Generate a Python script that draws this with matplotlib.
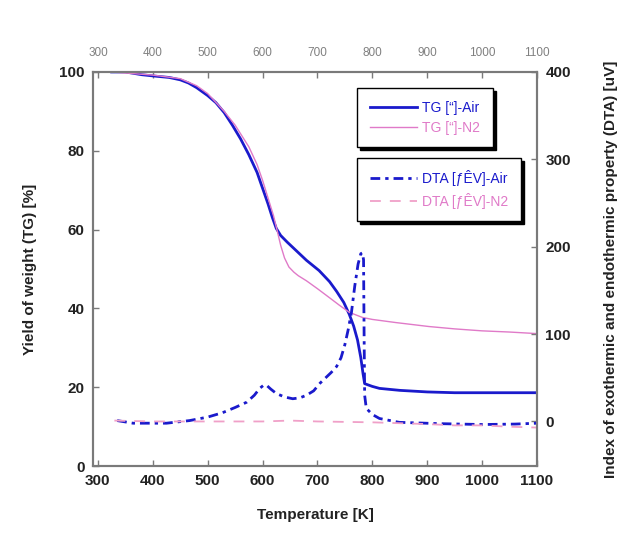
import numpy as np
import matplotlib
matplotlib.use("Agg")
import matplotlib.pyplot as plt

plt.rcParams['font.family'] = ['Liberation Sans', 'DejaVu Sans']

# TG (left axis, %)
t_tg_air = [325, 350, 380, 400, 430, 450, 465, 480, 500, 515, 530, 545, 560, 575, 590,
            600, 610, 618, 625, 633, 645, 661, 680, 703, 722, 735, 748, 758, 766, 773,
            779, 783, 786, 800, 813, 850, 900, 950, 1000, 1100]
tg_air = [100, 100, 99.3, 99.0, 98.6, 98.0, 97.2, 96.0, 94.0, 92.2, 89.7, 86.5, 83.0, 79.0, 74.5,
          70.5, 66.5, 63.0, 60.3, 58.5, 56.8, 54.7, 52.2, 49.6, 46.8, 44.3, 41.5, 38.5, 35.5, 32.0,
          27.5, 23.5, 20.9, 20.2, 19.7, 19.2, 18.8, 18.6, 18.6, 18.6]

t_tg_n2 = [325, 400, 450, 480, 500, 530, 550, 575, 590, 600, 610, 620, 627, 633, 640,
           648, 657, 665, 680, 700, 722, 740, 758, 782, 800, 843, 903, 950, 1000, 1050, 1100]
tg_n2 = [100, 99.2, 98.3, 96.5, 94.5, 90.0, 86.5, 81.0, 76.5, 72.5, 68.0, 63.5, 59.5, 56.0, 52.8,
         50.5, 49.2, 48.3, 47.0, 45.0, 42.7, 40.8, 39.0, 37.7, 37.2, 36.4, 35.4, 34.8, 34.3, 34.0, 33.6]

# DTA (right axis, uV)
t_dta_air = [335, 364, 425, 467, 500, 527, 550, 571, 585, 595, 603, 608, 615, 625, 640,
             655, 668, 680, 693, 705, 715, 725, 735, 743, 750, 756, 762, 768, 774, 779,
             782, 784, 785, 786, 789, 800, 813, 849, 922, 1000, 1060, 1100]
dta_air = [1, -2, -2, 1, 5, 10, 16, 22, 30, 38, 42, 41, 37, 32, 28,
           26, 27, 30, 35, 44, 50, 56, 63, 73, 88, 105, 125, 155, 180, 192,
           193, 185, 100, 30, 15, 8, 3.4, -1, -2.5, -3.5, -3, -2]

t_dta_n2 = [330, 400, 500, 600, 650, 700, 800, 900, 950, 1000, 1050, 1100]
dta_n2 = [1, 0, 0, 0, 1, 0, -1, -3, -4.5, -4.5, -6, -7]

xticks = [300, 400, 500, 600, 700, 800, 900, 1000, 1100]

blue = '#1a1acc'
pink = '#e07ac8'
pink_light = '#f0a0c8'
frame = '#7a7a7a'

fig = plt.figure(figsize=(6.17, 5.41), dpi=100, facecolor='w')
ax = fig.add_axes([0.1507, 0.1386, 0.7196, 0.7284])
ax2 = ax.twinx()

l1, = ax.plot(t_tg_air, tg_air, color=blue, lw=2.0, label='TG [\u201c]-Air')
l2, = ax.plot(t_tg_n2, tg_n2, color=pink, lw=1.0, label='TG [\u201c]-N2')
l3, = ax2.plot(t_dta_air, dta_air, color=blue, lw=2.0, linestyle=(0, (3.5, 1.8, 1.2, 1.8)),
               label='DTA [\u0192\u00caV]-Air')
l4, = ax2.plot(t_dta_n2, dta_n2, color=pink_light, lw=1.3, linestyle=(0, (6, 5)),
               label='DTA [\u0192\u00caV]-N2')

ax.set_xlim(291, 1100)
ax.set_ylim(0, 100)
ax2.set_ylim(-51, 400)

ax.set_xticks(xticks)
ax.set_yticks([0, 20, 40, 60, 80, 100])
ax2.set_yticks([0, 100, 200, 300, 400])

for a in (ax, ax2):
    for s in a.spines.values():
        s.set_color(frame)
        s.set_linewidth(1.5)

ax.tick_params(axis='both', direction='in', length=4, width=1, color=frame,
               labelsize=11, pad=6, labelcolor='#222222')
ax.tick_params(axis='x', top=True)
ax2.tick_params(axis='y', direction='in', length=4, width=1, color=frame,
                labelsize=11, pad=6, labelcolor='#222222')
for lab in ax.get_xticklabels() + ax.get_yticklabels() + ax2.get_yticklabels():
    lab.set_fontweight('bold')

# top labels (grey, small)
top = ax.secondary_xaxis('top')
top.set_xticks(xticks)
top.tick_params(axis='x', length=0, labelsize=8.5, labelcolor='#808080', pad=9)
top.spines['top'].set_visible(False)

ax.set_xlabel('Temperature [K]', fontsize=11, fontweight='bold', labelpad=14, color='#222222')
ax.set_ylabel('Yield of weight (TG) [%]', fontsize=11, fontweight='bold', labelpad=16, color='#222222')
ax2.set_ylabel('Index of exothermic and endothermic property (DTA) [uV]', fontsize=11,
               fontweight='bold', labelpad=24, color='#222222')

leg_kw = dict(loc='upper left', fontsize=10, frameon=True, fancybox=False,
              shadow={'color': 'k', 'alpha': 1}, edgecolor='k', framealpha=1,
              handlelength=3.4, borderpad=0.9, labelspacing=0.45, handletextpad=0.4,
              borderaxespad=0)

leg1 = ax2.legend(handles=[l1, l2], bbox_to_anchor=(0.595, 0.959), **leg_kw)
leg1.get_frame().set_linewidth(1.0)
for txt, c in zip(leg1.get_texts(), [blue, pink]):
    txt.set_color(c)
ax2.add_artist(leg1)

leg2 = ax2.legend(handles=[l3, l4], bbox_to_anchor=(0.595, 0.782), **leg_kw)
leg2.get_frame().set_linewidth(1.0)
for txt, c in zip(leg2.get_texts(), [blue, pink]):
    txt.set_color(c)

fig.savefig('out.png', dpi=100)
